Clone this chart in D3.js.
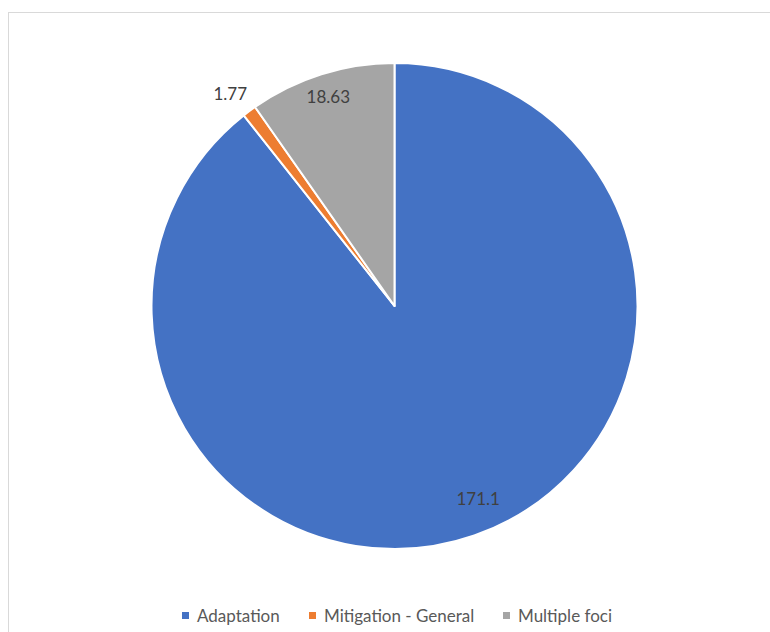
<!DOCTYPE html>
<html>
<head>
<meta charset="utf-8">
<script src="https://cdn.jsdelivr.net/npm/d3@7"></script>
<style>
  html, body { margin: 0; padding: 0; background: #fff; }
  svg { display: block; }
</style>
</head>
<body>
<svg id="chart" width="770" height="632"></svg>
<script>
// Funding by focus area
const categories = ["Adaptation", "Mitigation - General", "Multiple foci"];
const values = [171.1, 1.77, 18.63];
const valueLabels = ["171.1", "1.77", "18.63"];
const colors = ["#4472C4", "#ED7D31", "#A5A5A5"];

const svg = d3.select("#chart");
const cx = 394.5, cy = 306, R = 243;
const fontFamily = "Lato, 'Open Sans', sans-serif";

// Chart area frame
svg.append("rect")
  .attr("x", 8.5).attr("y", 12.5)
  .attr("width", 800).attr("height", 700)
  .attr("fill", "#fff")
  .attr("stroke", "#d9d9d9").attr("stroke-width", 1);

const data = categories.map((c, i) => ({ name: c, value: values[i], label: valueLabels[i], color: colors[i] }));

const pie = d3.pie().value(d => d.value).sort(null);
const arcs = pie(data);
const arc = d3.arc().innerRadius(0).outerRadius(R);

const g = svg.append("g").attr("transform", `translate(${cx},${cy})`);

g.selectAll("path.slice")
  .data(arcs)
  .join("path")
  .attr("class", "slice")
  .attr("d", arc)
  .attr("fill", d => d.data.color)
  .attr("stroke", "#fff")
  .attr("stroke-width", 2)
  .attr("stroke-linejoin", "round");

// Data labels: radius factor per slice (inside for the large ones, outside for the thin one),
// plus a small nudge for best-fit placement
const labelRadius = [0.86, 1.09, 0.905];
const labelNudge = [[15, -5], [-6, 0], [0, 0]];
g.selectAll("text.val")
  .data(arcs)
  .join("text")
  .attr("class", "val")
  .attr("transform", (d, i) => {
    const a = (d.startAngle + d.endAngle) / 2;
    const r = R * labelRadius[i];
    return `translate(${r * Math.sin(a) + labelNudge[i][0]},${-r * Math.cos(a) + labelNudge[i][1]})`;
  })
  .attr("text-anchor", "middle")
  .attr("dominant-baseline", "central")
  .attr("font-family", fontFamily)
  .attr("font-size", 17)
  .attr("fill", "#404040")
  .text(d => d.data.label);

// Legend
const legendX = [182, 309, 503];
const legendY = 615.5;
const lg = svg.append("g");
data.forEach((d, i) => {
  lg.append("rect")
    .attr("x", legendX[i]).attr("y", legendY - 3.5)
    .attr("width", 7).attr("height", 7)
    .attr("fill", d.color);
  lg.append("text")
    .attr("x", legendX[i] + 15).attr("y", legendY)
    .attr("dominant-baseline", "central")
    .attr("font-family", fontFamily)
    .attr("font-size", 17)
    .attr("fill", "#595959")
    .text(d.name);
});
</script>
</body>
</html>
